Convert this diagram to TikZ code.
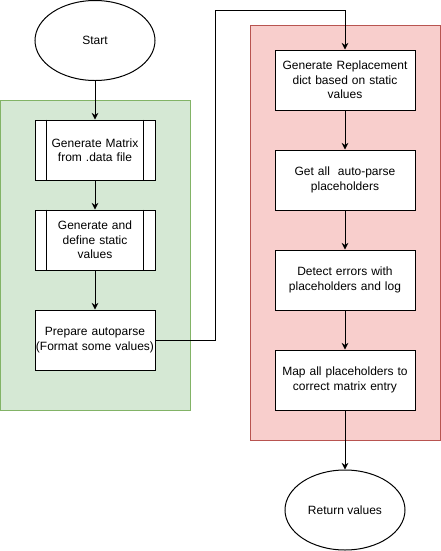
\documentclass[tikz,border=0pt]{standalone}
\usepackage{fontspec}
\setmainfont{Liberation Sans}
\usepackage{xcolor}
\usepackage{tikz}
\usetikzlibrary{calc,arrows.meta,shapes.geometric}

\definecolor{grpgreenfill}{HTML}{D5E8D4}
\definecolor{grpgreenline}{HTML}{82B366}
\definecolor{grpredfill}{HTML}{F8CECC}
\definecolor{grpredline}{HTML}{B85450}

\tikzset{
  flow/.style={draw=black, line width=0.75pt, fill=white, align=center,
    font=\fontsize{9pt}{10.8pt}\selectfont, inner xsep=0pt, minimum height=45pt},
  leftbox/.style={flow, text width=90pt},
  rightbox/.style={flow, text width=105pt},
  terminal/.style={flow, ellipse, minimum width=90pt, minimum height=60pt},
  arr/.style={line width=0.75pt, -{Stealth[length=5pt,width=5pt]}},
}

\begin{document}
\begin{tikzpicture}[x=0.75pt,y=-0.75pt]
  \useasboundingbox (0,0) rectangle (441,551);

  % Group backgrounds
  \draw[fill=grpgreenfill, draw=grpgreenline, line width=0.75pt] (0.5,100) rectangle (190,410);
  \draw[fill=grpredfill, draw=grpredline, line width=0.75pt] (250,25) rectangle (440.5,440);

  % Left column
  \node[terminal] (start) at (95,40.5) {Start};
  \node[leftbox] (matrix) at (95,150) {Generate Matrix\\from .data file};
  \node[leftbox] (static) at (95,240) {Generate and\\define static\\values};
  \node[leftbox] (prep) at (95,340) {Prepare autoparse\\(Format some values)};

  % predefined-process side bars
  \foreach \n in {matrix,static}{
    \draw[line width=0.75pt] ($(\n.north west)+(12,0)$) -- ($(\n.south west)+(12,0)$);
    \draw[line width=0.75pt] ($(\n.north east)+(-12,0)$) -- ($(\n.south east)+(-12,0)$);
  }

  % Right column
  \node[rightbox] (repl) at (345,80) {Generate Replacement\\dict based on static\\values};
  \node[rightbox] (getph) at (345,180) {Get all~ auto-parse\\placeholders};
  \node[rightbox] (detect) at (345,280) {Detect errors with\\placeholders and log};
  \node[rightbox] (mapph) at (345,380) {Map all placeholders to\\correct matrix entry};
  \node[terminal] (ret) at (345,510) {Return values};

  % Connectors
  \draw[arr] (start) -- (matrix);
  \draw[arr] (matrix) -- (static);
  \draw[arr] (static) -- (prep);
  \coordinate (turn) at (215,10);
  \draw[arr] (prep.east) -| (turn) -| (repl.north);
  \draw[arr] (repl) -- (getph);
  \draw[arr] (getph) -- (detect);
  \draw[arr] (detect) -- (mapph);
  \draw[arr] (mapph) -- (ret);
\end{tikzpicture}
\end{document}
